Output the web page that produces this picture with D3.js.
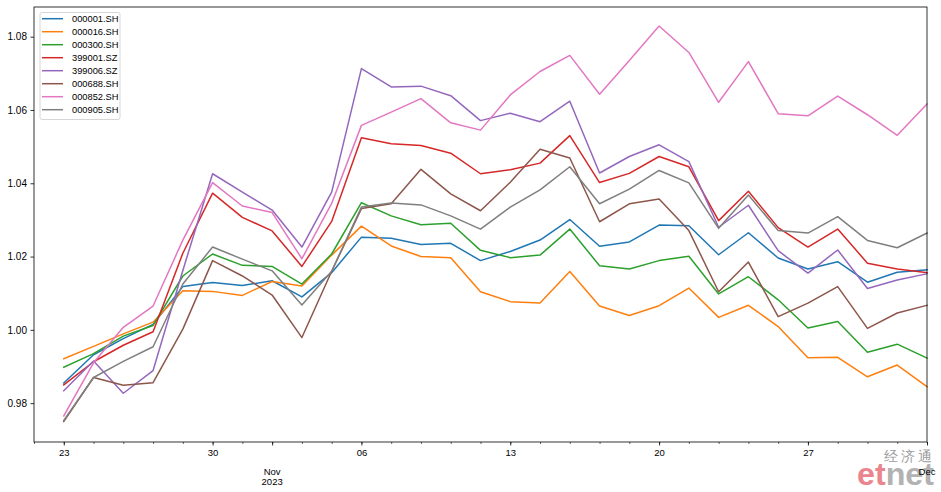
<!DOCTYPE html>
<html>
<head>
<meta charset="utf-8">
<script src="https://cdn.jsdelivr.net/npm/d3@7"></script>
<style>
  html, body { margin: 0; padding: 0; background: #fff; }
  svg { display: block; }
  text { font-family: "Liberation Sans", Arial, sans-serif; }
</style>
</head>
<body>
<svg id="chart" width="941" height="492"></svg>
<script>
// ---------- data ----------
const dates = [
  "2023-10-23","2023-10-24","2023-10-25","2023-10-26","2023-10-27",
  "2023-10-30","2023-10-31","2023-11-01","2023-11-02","2023-11-03",
  "2023-11-06","2023-11-07","2023-11-08","2023-11-09","2023-11-10",
  "2023-11-13","2023-11-14","2023-11-15","2023-11-16","2023-11-17",
  "2023-11-20","2023-11-21","2023-11-22","2023-11-23","2023-11-24",
  "2023-11-27","2023-11-28","2023-11-29","2023-11-30","2023-12-01"
];
const seriesNames = ["000001.SH","000016.SH","000300.SH","399001.SZ","399006.SZ","000688.SH","000852.SH","000905.SH"];
const seriesColors = ["#1f77b4","#ff7f0e","#2ca02c","#d62728","#9467bd","#8c564b","#e377c2","#7f7f7f"];

const s000001 = [0.9855,0.9932,0.9976,1.0015,1.0118,1.0129,1.0121,1.0134,1.0090,1.0156,
                 1.0253,1.0250,1.0233,1.0236,1.0189,1.0214,1.0245,1.0301,1.0228,1.0240,
                 1.0286,1.0284,1.0205,1.0265,1.0196,1.0166,1.0186,1.0130,1.0157,1.0164];
const s000016 = [0.9921,0.9955,0.9989,1.0021,1.0107,1.0105,1.0094,1.0132,1.0120,1.0204,
                 1.0283,1.0229,1.0200,1.0197,1.0104,1.0077,1.0073,1.0159,1.0065,1.0039,
                 1.0066,1.0114,1.0034,1.0067,1.0009,0.9924,0.9925,0.9872,0.9904,0.9845];
const s000300 = [0.9898,0.9935,0.9983,1.0012,1.0147,1.0207,1.0176,1.0173,1.0125,1.0207,
                 1.0347,1.0311,1.0287,1.0291,1.0217,1.0197,1.0204,1.0275,1.0175,1.0166,
                 1.0189,1.0201,1.0098,1.0145,1.0082,1.0005,1.0023,0.9939,0.9961,0.9923];
const s399001 = [0.9850,0.9913,0.9958,0.9995,1.0209,1.0373,1.0307,1.0270,1.0173,1.0296,
                 1.0524,1.0508,1.0503,1.0482,1.0426,1.0437,1.0455,1.0530,1.0402,1.0427,
                 1.0473,1.0445,1.0298,1.0378,1.0279,1.0226,1.0275,1.0182,1.0166,1.0156];
const s399006 = [0.9834,0.9915,0.9827,0.9889,1.0162,1.0426,1.0376,1.0327,1.0226,1.0376,
                 1.0713,1.0663,1.0665,1.0639,1.0571,1.0591,1.0568,1.0624,1.0428,1.0473,
                 1.0505,1.0459,1.0280,1.0340,1.0216,1.0155,1.0218,1.0113,1.0136,1.0153];
const s000688 = [0.9750,0.9870,0.9849,0.9856,1.0002,1.0189,1.0147,1.0095,0.9979,1.0160,
                 1.0331,1.0344,1.0438,1.0371,1.0325,1.0403,1.0493,1.0469,1.0295,1.0344,
                 1.0357,1.0271,1.0104,1.0185,1.0036,1.0073,1.0118,1.0004,1.0046,1.0067];
const s000852 = [0.9765,0.9910,1.0007,1.0065,1.0245,1.0402,1.0338,1.0320,1.0194,1.0345,
                 1.0558,1.0594,1.0631,1.0565,1.0545,1.0641,1.0705,1.0749,1.0643,1.0735,
                 1.0829,1.0757,1.0621,1.0732,1.0590,1.0584,1.0638,1.0587,1.0531,1.0616];
const s000905 = [0.9753,0.9870,0.9914,0.9954,1.0125,1.0226,1.0193,1.0161,1.0068,1.0160,
                 1.0335,1.0346,1.0341,1.0311,1.0275,1.0335,1.0382,1.0445,1.0344,1.0384,
                 1.0435,1.0401,1.0277,1.0368,1.0271,1.0264,1.0309,1.0244,1.0224,1.0264];
const seriesValues = [s000001,s000016,s000300,s399001,s399006,s000688,s000852,s000905];

const yTicks = [0.98, 1.00, 1.02, 1.04, 1.06, 1.08];
const majorDayTicks = ["23","30","06","13","20","27"];       // Mondays
const monthLabels = [{date:"2023-11-01", lines:["Nov","2023"]}, {date:"2023-12-01", lines:["Dec"]}];

// ---------- layout ----------
const svg = d3.select("#chart");
const L = 34, R = 927, T = 7, B = 442;
const parse = d3.timeParse("%Y-%m-%d");
const fmtDay = d3.timeFormat("%d");

// business-day index scale (pandas period axis)
const x = d3.scaleLinear().domain([-1, dates.length - 1]).range([L, R]);
const y = d3.scaleLinear().domain([0.9694, 1.0881]).range([B, T]);

// watermark (behind axes)
const wm = svg.append("g").attr("opacity", 0.85);
wm.append("text").attr("x", 935).attr("y", 461).attr("text-anchor", "end")
  .attr("font-family", "'Noto Sans CJK SC', sans-serif").attr("font-size", 14)
  .attr("letter-spacing", 3).attr("fill", "#8c8c8c").text("经济通");
const et = wm.append("text").attr("x", 857).attr("y", 485)
  .attr("font-family", "'Liberation Sans', Arial, sans-serif").attr("font-weight", "bold")
  .attr("font-size", 31).attr("textLength", 77).attr("lengthAdjust", "spacingAndGlyphs");
et.append("tspan").attr("fill", "#e8707a").text("et");
et.append("tspan").attr("fill", "#a5a5a5").text("net");

// lines
const line = d3.line().x((d, i) => x(i)).y(d => y(d));
const lines = svg.append("g");
seriesValues.forEach((vals, k) => {
  lines.append("path").datum(vals).attr("d", line)
    .attr("fill", "none").attr("stroke", seriesColors[k])
    .attr("stroke-width", 1.5).attr("stroke-linejoin", "round").attr("stroke-linecap", "square");
});

// y axis
const yAxis = svg.append("g").attr("transform", `translate(${L},0)`)
  .call(d3.axisLeft(y).tickValues(yTicks).tickSize(3.5).tickPadding(3.5).tickFormat(d3.format(".2f")));
yAxis.select(".domain").remove();
yAxis.selectAll("text").attr("font-size", 10).attr("fill", "#000");
yAxis.selectAll("line").attr("stroke", "#000").attr("stroke-width", 0.8);

// x axis: minor ticks every business day
const xMinor = svg.append("g").attr("transform", `translate(0,${B})`)
  .call(d3.axisBottom(x).tickValues(d3.range(-1, dates.length)).tickSize(2).tickFormat(""));
xMinor.select(".domain").remove();
xMinor.selectAll("line").attr("stroke", "#000").attr("stroke-width", 0.6);

// x axis: major ticks (Mondays and month starts)
const majorIdx = dates.map((d, i) => i).filter(i => {
  const dt = parse(dates[i]);
  return dt.getDay() === 1 || monthLabels.some(m => m.date === dates[i]);
});
const xMajor = svg.append("g").attr("transform", `translate(0,${B})`)
  .call(d3.axisBottom(x).tickValues(majorIdx).tickSize(3.5).tickPadding(3.5)
    .tickFormat(i => {
      const dt = parse(dates[i]);
      const lbl = fmtDay(dt);
      return (dt.getDay() === 1 && majorDayTicks.includes(lbl)) ? lbl : "";
    }));
xMajor.select(".domain").remove();
xMajor.selectAll("text").attr("font-size", 9.5).attr("fill", "#000");
xMajor.selectAll("line").attr("stroke", "#000").attr("stroke-width", 0.8);

// month / year labels
monthLabels.forEach(m => {
  const i = dates.indexOf(m.date);
  const t = svg.append("text").attr("x", x(i)).attr("y", 474.5).attr("text-anchor", "middle")
    .attr("font-size", 9.5).attr("fill", "#000");
  m.lines.forEach((ln, j) => t.append("tspan").attr("x", x(i)).attr("dy", j === 0 ? 0 : 10.5).text(ln));
});

// frame
svg.append("rect").attr("x", L).attr("y", T).attr("width", R - L).attr("height", B - T)
  .attr("fill", "none").attr("stroke", "#000").attr("stroke-width", 0.8);

// legend
const lg = svg.append("g");
lg.append("rect").attr("x", 40).attr("y", 12.5).attr("width", 80).attr("height", 107)
  .attr("rx", 2).attr("fill", "#fff").attr("fill-opacity", 0.8)
  .attr("stroke", "#cccccc").attr("stroke-width", 0.8);
seriesNames.forEach((nm, k) => {
  const yy = 18.7 + k * 13;
  lg.append("line").attr("x1", 42).attr("x2", 63).attr("y1", yy).attr("y2", yy)
    .attr("stroke", seriesColors[k]).attr("stroke-width", 1.5);
  lg.append("text").attr("x", 72).attr("y", yy + 3.5).attr("font-size", 9.3).attr("fill", "#000").text(nm);
});
</script>
</body>
</html>
